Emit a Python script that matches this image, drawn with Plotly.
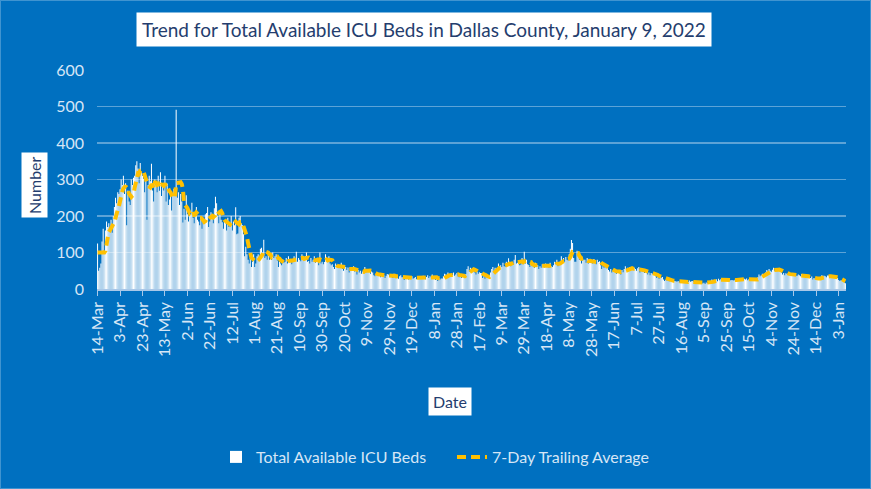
import pandas as pd
import plotly.graph_objects as go

# ---------------- data ----------------
start_date = "2020-03-14"

tick_labels = ["14-Mar", "3-Apr", "23-Apr", "13-May", "2-Jun", "22-Jun", "12-Jul",
               "1-Aug", "21-Aug", "10-Sep", "30-Sep", "20-Oct", "9-Nov", "29-Nov",
               "19-Dec", "8-Jan", "28-Jan", "17-Feb", "9-Mar", "29-Mar", "18-Apr",
               "8-May", "28-May", "17-Jun", "7-Jul", "27-Jul", "16-Aug", "5-Sep",
               "25-Sep", "15-Oct", "4-Nov", "24-Nov", "14-Dec", "3-Jan"]

# daily available ICU beds, one row per week
beds_2020 = [
    125, 50, 58, 70, 130, 165, 102,
    160, 185, 170, 180, 165, 190, 154,
    200, 225, 250, 235, 265, 260, 273,
    300, 285, 310, 260, 290, 175, 270,
    240, 230, 300, 285, 305, 310, 339,
    350, 330, 290, 345, 320, 310, 302,
    265, 300, 190, 285, 310, 295, 343,
    270, 240, 300, 285, 265, 310, 269,
    320, 255, 290, 270, 310, 240, 289,
    230, 245, 270, 215, 260, 275, 276,
    491, 250, 265, 230, 260, 240, 182,
    220, 190, 257, 205, 185, 215, 205,
    236, 195, 180, 210, 225, 190, 185,
    175, 200, 165, 190, 180, 205, 208,
    225, 170, 185, 210, 195, 180, 221,
    253, 235, 200, 180, 215, 190, 183,
    165, 190, 180, 160, 195, 170, 179,
    200, 160, 185, 175, 224, 150, 152,
    195, 200, 180, 175, 150, 90, 116,
    95, 80, 70, 85, 60, 75, 95,
    60, 70, 90, 95, 85, 110, 113,
    100, 135, 85, 90, 80, 95, 80,
    95, 80, 100, 85, 90, 95, 78,
    60, 75, 70, 65, 80, 72, 75,
    85, 70, 90, 75, 80, 68, 78,
    90, 80, 102, 75, 85, 80, 76,
    95, 85, 80, 90, 100, 75, 77,
    70, 85, 75, 80, 90, 72, 81,
    80, 65, 100, 70, 75, 68, 74,
    95, 85, 80, 90, 70, 65, 68,
    60, 55, 70, 65, 58, 62, 64,
    72, 55, 50, 65, 60, 52, 59,
    45, 60, 50, 58, 62, 48, 55,
    40, 52, 45, 50, 42, 48, 52,
    60, 45, 55, 48, 52, 42, 48,
    45, 38, 35, 42, 40, 36, 44,
    32, 40, 35, 38, 30, 36, 41,
    40, 33, 38, 35, 30, 42, 34,
    30, 36, 28, 35, 38, 32, 32,
    25, 32, 28, 30, 26, 33, 29,
    35, 28, 30, 33, 27, 32, 32,
    28, 34, 30, 36, 29, 27, 33,
]
beds_2021 = [
    38, 30, 35, 32, 40, 31, 32,
    25, 28, 22, 30, 26, 29, 29,
    35, 42, 40, 36, 45, 33, 35,
    42, 38, 45, 36, 40, 44, 35,
    32, 38, 30, 40, 36, 35, 41,
    55, 62, 48, 58, 50, 52, 53,
    45, 40, 48, 42, 46, 44, 43,
    30, 35, 28, 36, 32, 34, 36,
    45, 55, 60, 50, 58, 52, 58,
    70, 58, 65, 60, 72, 62, 61,
    75, 65, 84, 68, 62, 70, 66,
    80, 93, 70, 72, 78, 65, 67,
    85, 75, 102, 70, 80, 68, 66,
    60, 70, 62, 68, 58, 72, 65,
    65, 55, 62, 58, 68, 60, 59,
    70, 60, 66, 58, 72, 62, 60,
    65, 75, 68, 80, 62, 72, 68,
    90, 78, 85, 75, 88, 80, 78,
    95, 110, 134, 126, 85, 75, 75,
    105, 90, 80, 85, 70, 78, 80,
    80, 72, 85, 70, 78, 75, 72,
    70, 82, 75, 68, 80, 74, 76,
    65, 55, 62, 58, 60, 57, 63,
    52, 48, 55, 45, 50, 47, 53,
    42, 50, 44, 48, 40, 52, 46,
    55, 62, 50, 58, 54, 60, 53,
    60, 52, 58, 55, 50, 57, 60,
    45, 50, 48, 52, 44, 47, 50,
    40, 45, 38, 44, 42, 40, 45,
    35, 30, 33, 28, 34, 31, 33,
    26, 22, 25, 23, 24, 21, 27,
    20, 23, 19, 22, 21, 20, 22,
    18, 20, 17, 21, 19, 18, 20,
    22, 19, 23, 20, 21, 22, 20,
    17, 19, 18, 16, 20, 18, 18,
    15, 17, 14, 18, 16, 15, 17,
    22, 26, 23, 25, 24, 27, 21,
    28, 24, 27, 25, 26, 29, 23,
    25, 22, 26, 23, 24, 25, 23,
    24, 28, 25, 27, 26, 24, 28,
    30, 25, 28, 26, 29, 24, 27,
    23, 27, 24, 26, 22, 28, 25,
    32, 40, 35, 38, 42, 36, 36,
    45, 52, 48, 55, 50, 47, 53,
    58, 50, 55, 52, 56, 49, 51,
    45, 40, 44, 38, 43, 41, 43,
    40, 36, 39, 37, 38, 40, 36,
    36, 40, 38, 35, 41, 37, 39,
    34, 30, 33, 31, 32, 30, 34,
    26, 30, 27, 29, 28, 26, 30,
    33, 38, 34, 36, 35, 32, 37,
    37, 33, 36, 34, 38, 32, 35,
    28, 30, 25, 22, 24, 23, 23,
    18, 16,
]
beds = beds_2020 + beds_2021

# ---------------- derived ----------------
n = len(beds)
day_index = list(range(n))
dates = pd.date_range(start_date, periods=n, freq="D")
avg7 = pd.Series(beds).rolling(7).mean().bfill()
tick_vals = [i * 20 for i in range(len(tick_labels))]

# ---------------- style ----------------
BG = "#0070c0"
LIGHT = "#d6e6f6"
NAVY = "#243d6e"
GOLD = "#ffc000"
FONT = "Lato"

# plot-area pixel box for placing decorations
L, R, T, B = 97, 846, 70, 289
W, H = 871, 489


def px(x):
    return (x - L) / (R - L)


def py(y):
    return (B - y) / (B - T)


fig = go.Figure()
fig.add_trace(go.Bar(
    x=day_index, y=beds, name="Total Available ICU Beds",
    marker=dict(color="white", line=dict(width=0)),
    customdata=dates.strftime("%d-%b-%Y"),
    hovertemplate="%{customdata}: %{y}<extra></extra>",
))
fig.add_trace(go.Scatter(
    x=day_index, y=avg7, name="7-Day Trailing Average", mode="lines",
    line=dict(color=GOLD, width=4, dash="9px,5px"),
    hoverinfo="skip",
))

fig.update_layout(
    width=W, height=H,
    margin=dict(l=L, r=W - R, t=T, b=H - B),
    paper_bgcolor=BG, plot_bgcolor=BG,
    font=dict(family=FONT, color=LIGHT, size=15),
    bargap=0.1,
    showlegend=True,
    legend=dict(
        orientation="h", x=px(216), xanchor="left", y=py(457), yanchor="middle",
        font=dict(size=16, color=LIGHT), entrywidth=191, entrywidthmode="pixels",
        bgcolor="rgba(0,0,0,0)", traceorder="normal",
    ),
    xaxis=dict(
        range=[-0.5, n - 0.5], tickmode="array", tickvals=tick_vals, ticktext=tick_labels,
        tickangle=-90, ticks="outside", ticklen=5, tickcolor="#a9c8e8",
        showline=True, linecolor="#a9c8e8", linewidth=1.5,
        showgrid=False, zeroline=False, tickfont=dict(size=16, color=LIGHT),
    ),
    yaxis=dict(
        range=[0, 600], tickmode="array", tickvals=[0, 100, 200, 300, 400, 500, 600],
        showgrid=True, gridcolor="rgba(255,255,255,0.36)", gridwidth=1.5,
        zeroline=False, showline=False, ticks="", ticklabelstandoff=12,
        tickfont=dict(size=16, color=LIGHT),
    ),
    annotations=[
        dict(text="Trend for Total Available ICU Beds in Dallas County, January 9, 2022",
             xref="paper", yref="paper", x=px(424), y=py(29), showarrow=False,
             xanchor="center", yanchor="middle", bgcolor="white", borderpad=5,
             font=dict(size=19, color=NAVY, family=FONT)),
        dict(text="Number", xref="paper", yref="paper", x=px(34), y=py(185),
             showarrow=False, textangle=-90, xanchor="center", yanchor="middle",
             bgcolor="white", borderpad=3, font=dict(size=16, color=NAVY, family=FONT)),
        dict(text="Date", xref="paper", yref="paper", x=px(450), y=py(401),
             showarrow=False, xanchor="center", yanchor="middle",
             bgcolor="white", borderpad=4, font=dict(size=16, color=NAVY, family=FONT)),
    ],
    shapes=[
        dict(type="rect", xref="paper", yref="paper",
             x0=px(0.5), x1=px(W - 0.5), y0=py(H - 0.5), y1=py(0.5),
             line=dict(color="rgba(255,255,255,0.25)", width=1), layer="below"),
    ],
)

fig.write_html(
    "out.html",
    config={"staticPlot": True, "displayModeBar": False},
    post_script="document.body.style.margin='0';document.body.style.overflow='hidden';",
)
